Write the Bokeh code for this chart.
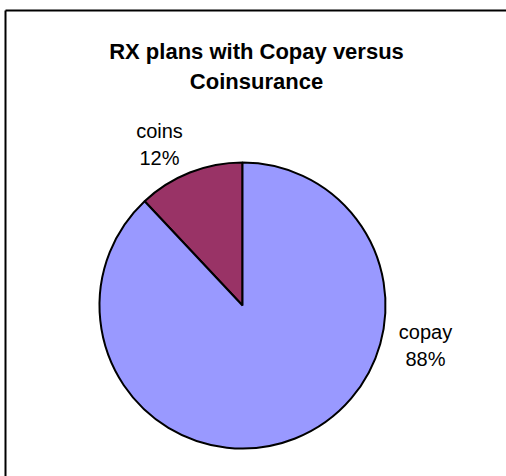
import math
from bokeh.plotting import figure
from bokeh.models import ColumnDataSource, Range1d
from bokeh.core.properties import value
from bokeh.embed import file_html
from bokeh.resources import INLINE

# ---- data ----
categories = ["coins", "copay"]
shares = [12, 88]
colors = ["#993366", "#9999FF"]
title_lines = ["RX plans with Copay versus", "Coinsurance"]

W, H = 506, 476
p = figure(width=W, height=H, output_backend="svg", toolbar_location=None,
           x_range=Range1d(0, W), y_range=Range1d(0, H), min_border=0)
p.axis.visible = False
p.grid.visible = False
p.outline_line_color = None
p.background_fill_color = "white"
p.border_fill_color = "white"

# chart frame (decoration; extends past the right and bottom edges)
p.segment(x0=[5, 5], y0=[0, H - 10], x1=[5, W], y1=[H - 10, H - 10],
          line_color="black", line_width=2)

cx, cy, r = 242, H - 305, 143
total = sum(shares)
starts, ends = [], []
a = math.pi / 2
for s in shares:
    starts.append(a)
    a += 2 * math.pi * s / total
    ends.append(a)

src = ColumnDataSource(dict(start=starts, end=ends, color=colors,
                            x=[cx] * len(shares), y=[cy] * len(shares)))
p.wedge(x="x", y="y", radius=r, start_angle="start", end_angle="end",
        fill_color="color", line_color="black", line_width=2, source=src)

# labels (positions chosen as styling)
lab_x = [159, 425]
lab_y = [H - 130, H - 331]
lab_src = ColumnDataSource(dict(
    x=lab_x, y=lab_y, y2=[v - 27 for v in lab_y],
    name=categories, pct=[f"{round(100 * s / total)}%" for s in shares]))
for col, yk in (("name", "y"), ("pct", "y2")):
    p.text(x="x", y=yk, text=col, source=lab_src, text_align="center",
           text_baseline="alphabetic", text_font=value("Liberation Sans"),
           text_font_size="20px", text_color="black")

# title
tsrc = ColumnDataSource(dict(x=[256, 256], y=[H - 51, H - 81], t=title_lines))
p.text(x="x", y="y", text="t", source=tsrc, text_align="center",
       text_baseline="alphabetic", text_font=value("Liberation Sans"),
       text_font_style="bold", text_font_size="22px", text_color="black")

open("out.html", "w").write(file_html(p, INLINE))
